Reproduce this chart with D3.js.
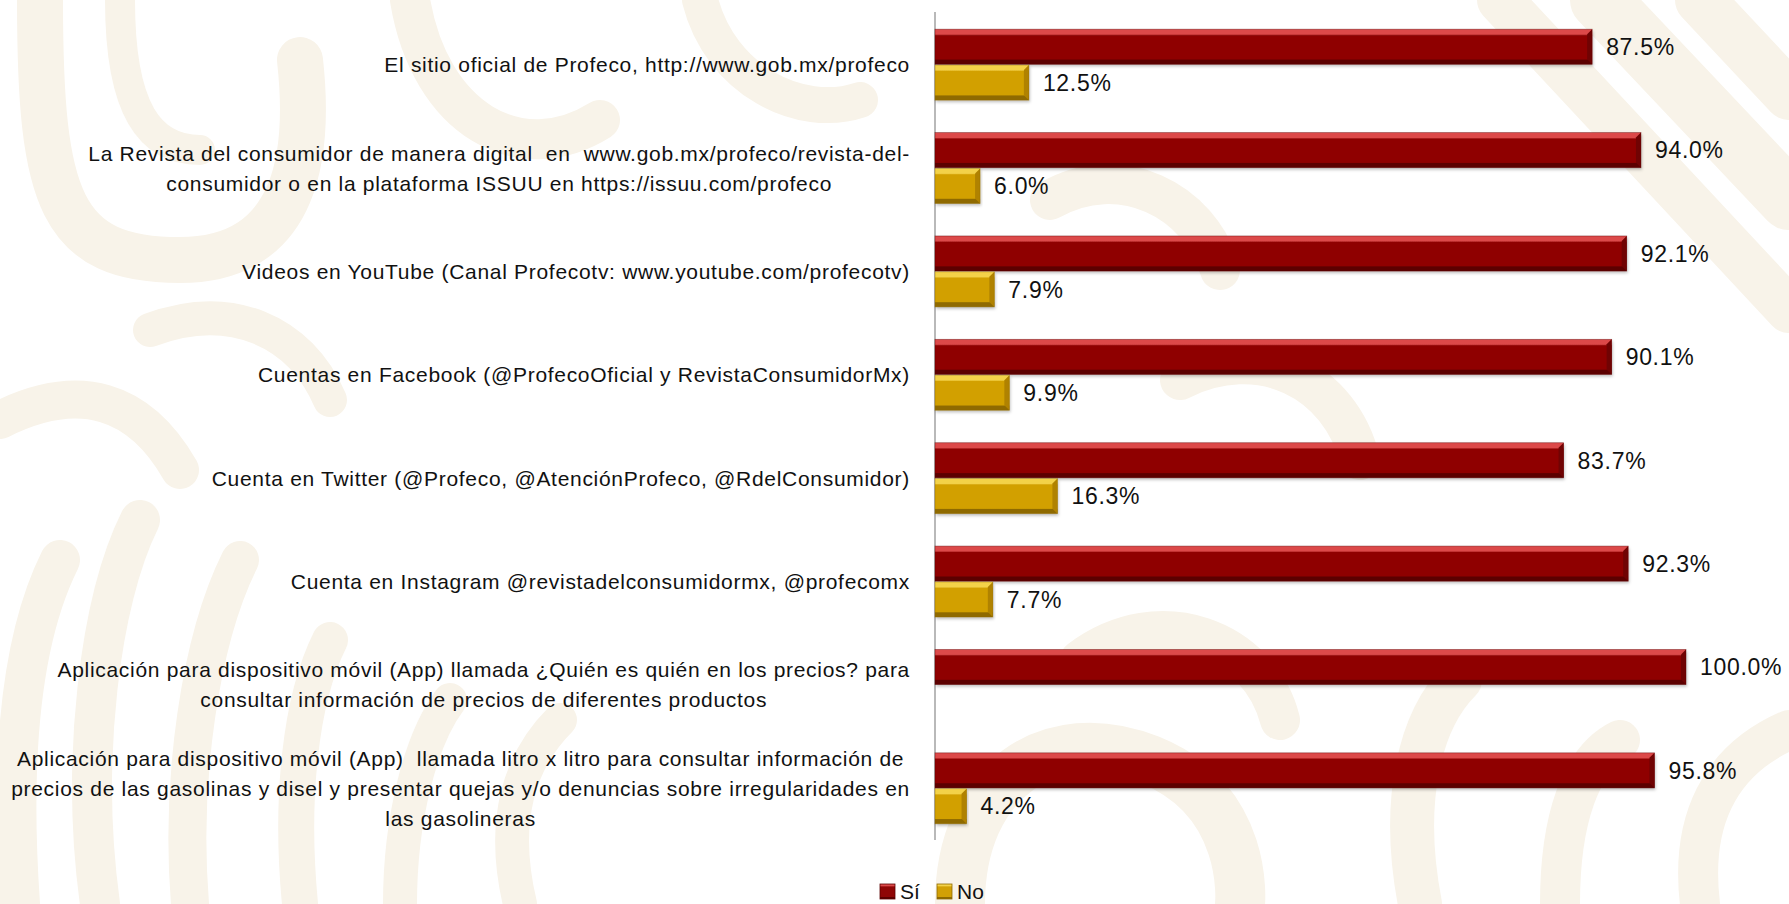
<!DOCTYPE html>
<html>
<head>
<meta charset="utf-8">
<script src="https://cdn.jsdelivr.net/npm/d3@7"></script>
<style>
  body { margin: 0; background: #ffffff; }
  svg { display: block; }
  .cat { font-family: "Liberation Sans", Arial, sans-serif; font-size: 21px; fill: #111; letter-spacing: 0.7px; white-space: pre; }
  .val { font-family: "Liberation Sans", Arial, sans-serif; font-size: 23px; fill: #111; letter-spacing: 0.7px; }
  .leg { font-family: "Liberation Sans", Arial, sans-serif; font-size: 21px; fill: #111; }
</style>
</head>
<body>
<svg id="chart" width="1789" height="904"></svg>
<script>
// categories (one entry per line of the label)
var categories = [
    ["El sitio oficial de Profeco, http://www.gob.mx/profeco"],
    ["La Revista del consumidor de manera digital  en  www.gob.mx/profeco/revista-del-",
     "consumidor o en la plataforma ISSUU en https://issuu.com/profeco"],
    ["Videos en YouTube (Canal Profecotv: www.youtube.com/profecotv)"],
    ["Cuentas en Facebook (@ProfecoOficial y RevistaConsumidorMx)"],
    ["Cuenta en Twitter (@Profeco, @AtenciónProfeco, @RdelConsumidor)"],
    ["Cuenta en Instagram @revistadelconsumidormx, @profecomx"],
    ["Aplicación para dispositivo móvil (App) llamada ¿Quién es quién en los precios? para",
     "consultar información de precios de diferentes productos"],
    ["Aplicación para dispositivo móvil (App)  llamada litro x litro para consultar información de",
     "precios de las gasolinas y disel y presentar quejas y/o denuncias sobre irregularidades en",
     "las gasolineras"]
];
var si_values = [87.5, 94.0, 92.1, 90.1, 83.7, 92.3, 100.0, 95.8];
var no_values = [12.5, 6.0, 7.9, 9.9, 16.3, 7.7, null, 4.2];
var series_names = ["Sí", "No"];

var svg = d3.select("#chart");

//## background decoration (pale swirls)
var bg = svg.append("g").attr("fill", "none").attr("stroke", "#f8f3e9")
    .attr("stroke-linecap", "round");
var bg_paths = [
    ["M40,0 C40,200 60,260 180,260 C300,260 310,150 300,60", 46],
    ["M120,0 C120,110 150,150 200,150", 30],
    ["M410,0 C430,120 520,170 600,120", 40],
    ["M700,0 C720,80 800,120 860,100", 36],
    ["M20,904 C10,760 20,640 60,560", 40],
    ["M100,904 C80,760 100,600 140,520", 40],
    ["M190,904 C180,780 200,640 240,560", 38],
    ["M300,904 C290,800 300,700 330,640", 36],
    ["M400,904 C400,820 420,740 450,700", 34],
    ["M520,904 C500,820 520,760 560,720", 34],
    ["M0,420 C80,380 140,400 180,470", 38],
    ["M150,330 C230,300 300,330 330,400", 34],
    ["M960,904 C960,780 1050,720 1150,760 C1250,800 1240,904 1240,904", 50],
    ["M1080,660 C1160,600 1260,640 1280,720", 40],
    ["M1600,0 L1789,200", 60],
    ["M1500,0 L1789,310", 46],
    ["M1700,0 L1789,95", 50],
    ["M1420,904 C1400,800 1420,720 1460,680", 44],
    ["M1560,904 C1560,820 1580,760 1620,740", 40],
    ["M1700,904 C1690,820 1720,760 1789,730", 40],
    ["M1180,380 C1260,340 1340,380 1360,460", 40],
    ["M1050,200 C1120,160 1200,200 1220,270", 40]
];
bg.selectAll("path").data(bg_paths).enter().append("path")
    .attr("d", function (d) { return d[0]; })
    .attr("stroke-width", function (d) { return d[1]; });

//## scales
var x = d3.scaleLinear().domain([0, 100]).range([935, 1686]);
var y = d3.scaleBand().domain(d3.range(categories.length))
    .range([13, 840]).paddingInner(0.3).paddingOuter(0.15);
var ySub = d3.scaleBand().domain(series_names).range([0, y.bandwidth()]).padding(0.02);

//## gradients for the bevelled bars
var defs = svg.append("defs");
var palettes = {
    "Sí": { main: "#8f0606", light: "#dc4a4a", dark: "#5c0000", side: "#700303" },
    "No": { main: "#d2a005", light: "#f3d24a", dark: "#8f6a00", side: "#b08200" }
};
series_names.forEach(function (s, i) {
    var p = palettes[s];
    var g = defs.append("linearGradient").attr("id", "grad" + i)
        .attr("x1", 0).attr("y1", 0).attr("x2", 0).attr("y2", 1);
    g.append("stop").attr("offset", "0%").attr("stop-color", p.light);
    g.append("stop").attr("offset", "14%").attr("stop-color", p.light);
    g.append("stop").attr("offset", "18%").attr("stop-color", p.main);
    g.append("stop").attr("offset", "85%").attr("stop-color", p.main);
    g.append("stop").attr("offset", "88%").attr("stop-color", p.dark);
    g.append("stop").attr("offset", "100%").attr("stop-color", p.dark);
});
var shadow = defs.append("filter").attr("id", "shadow")
    .attr("x", "-5%").attr("y", "-20%").attr("width", "110%").attr("height", "160%");
shadow.append("feDropShadow").attr("dx", 1).attr("dy", 2).attr("stdDeviation", 1.5)
    .attr("flood-color", "#000").attr("flood-opacity", 0.25);

//## rows of data
var rows = categories.map(function (c, i) {
    return { i: i, lines: c, values: [
        { s: "Sí", k: 0, v: si_values[i] },
        { s: "No", k: 1, v: no_values[i] }
    ] };
});

//## axis (vertical line only)
var axis = svg.append("g").attr("transform", "translate(" + x(0) + ",0)")
    .call(d3.axisLeft(y).tickSize(0).tickFormat(""));
axis.select(".domain").attr("stroke", "#8a8a8a").attr("stroke-width", 1.2)
    .attr("d", "M0,12V840");

//## bars
var bevel = 5;
var group = svg.selectAll(".row").data(rows).enter().append("g")
    .attr("class", "row")
    .attr("transform", function (d) { return "translate(0," + y(d.i) + ")"; });

var bar = group.selectAll(".bar")
    .data(function (d) { return d.values.filter(function (v) { return v.v != null; }); })
    .enter().append("g").attr("class", "bar");

bar.append("rect")
    .attr("x", x(0))
    .attr("y", function (d) { return ySub(d.s); })
    .attr("width", function (d) { return x(d.v) - x(0); })
    .attr("height", ySub.bandwidth())
    .attr("fill", function (d) { return "url(#grad" + d.k + ")"; })
    .attr("filter", "url(#shadow)");

// right facet of the bevel
bar.append("path")
    .attr("d", function (d) {
        var x1 = x(d.v), y0 = ySub(d.s), h = ySub.bandwidth();
        return "M" + x1 + "," + y0 + "L" + (x1 - bevel) + "," + (y0 + bevel) +
            "L" + (x1 - bevel) + "," + (y0 + h - bevel) + "L" + x1 + "," + (y0 + h) + "Z";
    })
    .attr("fill", function (d) { return palettes[d.s].side; });

bar.append("rect")
    .attr("x", x(0))
    .attr("y", function (d) { return ySub(d.s); })
    .attr("width", function (d) { return x(d.v) - x(0); })
    .attr("height", ySub.bandwidth())
    .attr("fill", "none")
    .attr("stroke", function (d) { return palettes[d.s].dark; })
    .attr("stroke-opacity", 0.5)
    .attr("stroke-width", 0.8);

//## value labels
bar.append("text")
    .attr("class", "val")
    .attr("x", function (d) { return x(d.v) + 14; })
    .attr("y", function (d) { return ySub(d.s) + ySub.bandwidth() / 2; })
    .attr("dy", "0.36em")
    .text(function (d) { return d.v.toFixed(1) + "%"; });

//## category labels (block right-aligned, lines centred)
var labelRight = 910, lineHeight = 30;
group.each(function (d) {
    var g = d3.select(this);
    var t = g.append("text").attr("class", "cat").attr("text-anchor", "middle");
    var spans = t.selectAll("tspan").data(d.lines).enter().append("tspan")
        .attr("dy", 0)
        .text(function (l) { return l; });
    var maxW = 0;
    spans.each(function () { maxW = Math.max(maxW, this.getComputedTextLength()); });
    var cx = labelRight - maxW / 2;
    var n = d.lines.length;
    spans.attr("x", cx)
        .attr("y", function (l, j) { return y.bandwidth() / 2 + (j - (n - 1) / 2) * lineHeight; })
        .attr("dy", "0.36em");
});

//## legend
var legend = svg.append("g").attr("transform", "translate(880,891)");
var legItem = legend.selectAll(".legend").data(series_names).enter().append("g")
    .attr("class", "legend")
    .attr("transform", function (d, i) { return "translate(" + (i * 57) + ",0)"; });
legItem.append("rect")
    .attr("x", 0).attr("y", -7).attr("width", 15).attr("height", 15)
    .attr("fill", function (d, i) { return "url(#grad" + i + ")"; })
    .attr("stroke", function (d) { return palettes[d].dark; })
    .attr("stroke-width", 0.8);
legItem.append("text")
    .attr("class", "leg")
    .attr("x", 20).attr("y", 0).attr("dy", "0.36em")
    .text(function (d) { return d; });
</script>
</body>
</html>
